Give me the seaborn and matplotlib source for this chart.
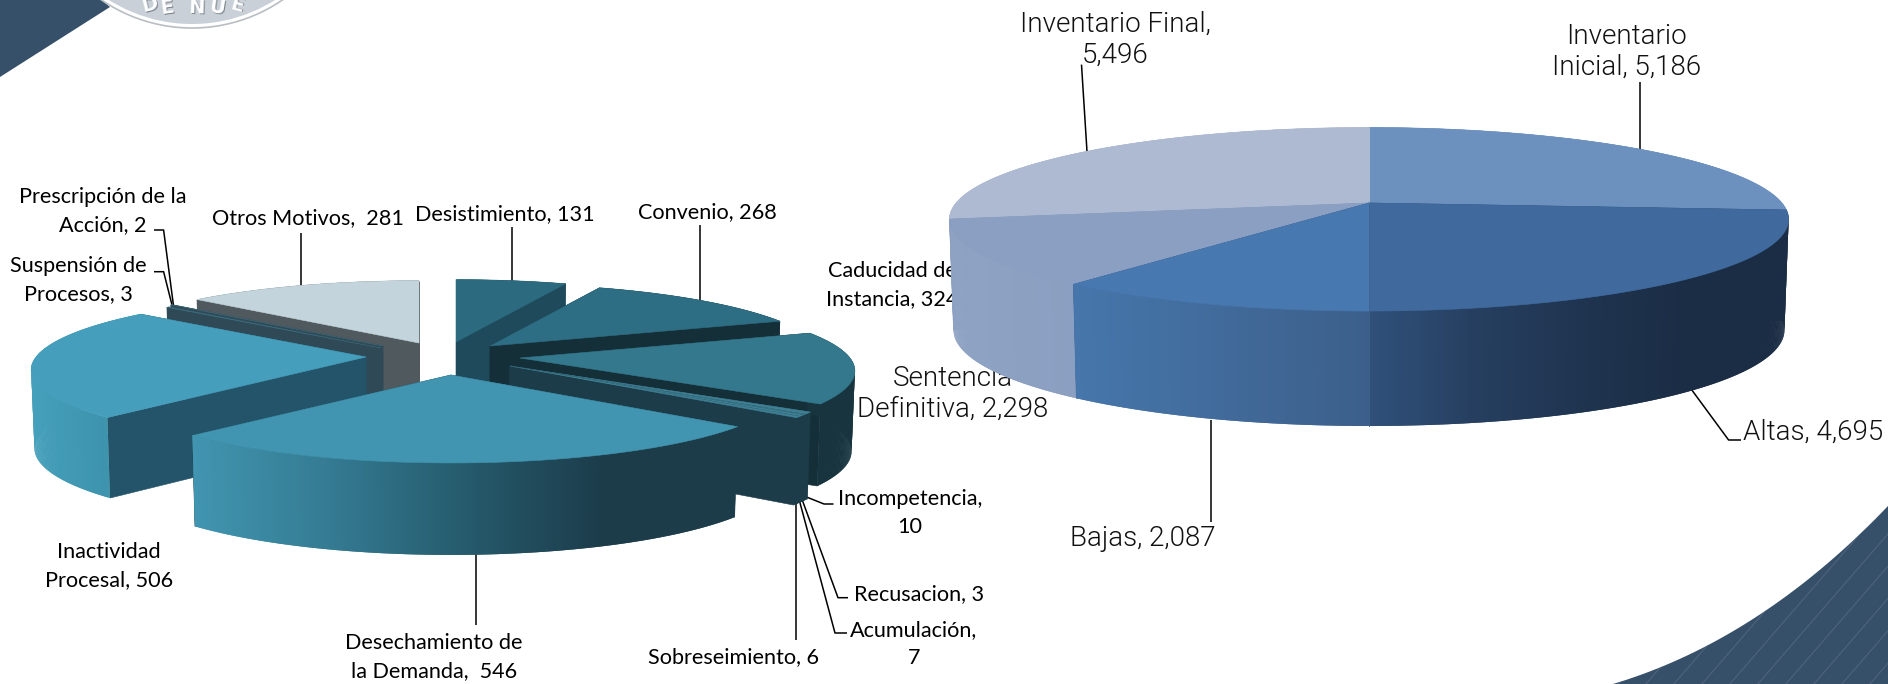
import numpy as np
import matplotlib
matplotlib.use("Agg")
import matplotlib.pyplot as plt
from matplotlib.patches import Circle, Polygon
import seaborn as sns

# left pie: motivos de baja, clockwise from 12 o'clock
motivos = ["Desistimiento", "Convenio", "Caducidad de Instancia", "Incompetencia",
           "Recusacion", "Acumulación", "Sobreseimiento", "Desechamiento de la Demanda",
           "Inactividad Procesal", "Suspensión de Procesos", "Prescripción de la Acción",
           "Otros Motivos"]
motivos_valores = [131, 268, 324, 10, 3, 7, 6, 546, 506, 3, 2, 281]

# right pie: inventario, clockwise from 12 o'clock
inventario = ["Inventario Inicial", "Altas", "Bajas", "Sentencia Definitiva", "Inventario Final"]
inventario_valores = [5186, 4695, 2087, 2298, 5496]

# styling for each slice of the left pie
left_top = ["#2b6a7f", "#2e6e84", "#33788c", "#3f8094", "#3f8094", "#3f8094", "#3f8094",
            "#4195b0", "#459ebb", "#3a6a7c", "#3a5f6e", "#c3d4dc"]
left_wall = ["#1e4a5b", "#152f38", "#152f38", "#1c3c4a", "#1c3c4a", "#1c3c4a", "#1c3c4a",
             "#1c3c4a", "#24546a", "#2f4a56", "#2f4a56", "#50595e"]
left_side = [["#1e4a5b"] * 2, ["#152f38"] * 2, ["#17343f"] * 2, ["#1c3c4a"] * 2, ["#1c3c4a"] * 2,
             ["#1c3c4a"] * 2, ["#1c3c4a"] * 2, ["#4195b0", "#347a92", "#255a6c", "#1c3c4a", "#1c3c4a"],
             ["#45a0bb", "#3f96b0", "#3c8fa8"], ["#2f4a56"] * 2, ["#2f4a56"] * 2, ["#50595e"] * 2]
# explode offsets of every slice, in pixels from the pie's centre
left_center = (450, 352)
left_explode = [(6, -10), (40, -6), (70, 6), (60, 14), (60, 14), (60, 14), (60, 14),
                (1, 23), (-84, 5), (-69, -4), (-67, -6), (-31, -9)]
left_depth = [85, 85, 80, 85, 85, 85, 85, 88, 78, 85, 85, 85]
left_radius = [1, 1, 1, 1, 1, 1, 1, 1, 1, 0.95, 0.95, 1]
left_order = [0, 11, 10, 9, 1, 2, 3, 4, 5, 6, 8, 7]

# styling for the right pie
right_top = ["#6c91bf", "#406a9e", "#4878b0", "#8a9fc1", "#aebad2"]
right_wall = ["#406a9e", "#2f4a70", "#3c5f8a", "#8a9fc1", "#aebad2"]
right_side = [["#6c91bf"] * 2, ["#30507a", "#263f60", "#1f3450", "#1b2d45", "#1b2d45"],
              ["#4676ab", "#3c5f8a"], ["#8fa3c4", "#8a9fc1"], ["#aebad2"] * 2]
right_center = (1369, 203)


def project(theta, hub, a, b, k, depth=0.0, taper=1.0):
    # theta in degrees from 12 o'clock, clockwise; perspective disc with a vertical extrusion
    t = np.radians(theta)
    u, v = np.sin(t), np.cos(t)
    w = 1 + k * v
    x = hub[0] + taper * a * u / w
    y = hub[1] - b * v / w + depth / (1 + 0.043 * v)
    return x, y


def draw_slice(ax, th0, th1, hub, a, b, k, depth, top, wall, side, z):
    thetas = np.linspace(th0, th1, max(int(th1 - th0) * 3, 2) + 1)
    xt, yt = project(thetas, hub, a, b, k)
    xb, yb = project(thetas, hub, a, b, k, depth, 0.99)
    # radial walls
    for i, col in ((0, wall), (-1, wall)):
        ax.add_patch(Polygon([hub, (xt[i], yt[i]), (xb[i], yb[i]), (hub[0], hub[1] + depth)],
                             closed=True, fc=col, ec=col, lw=0.4, zorder=z))
    # outer wall as overlapping strips so the shading can run across it without seams
    ramp = sns.blend_palette(side, 128)
    span = (xt.min(), xt.max())
    n = len(thetas)
    for i in range(n - 1):
        j = min(i + 2, n - 1)
        f = (xt[i] + xt[i + 1]) / 2
        f = 0 if span[1] == span[0] else (f - span[0]) / (span[1] - span[0])
        col = ramp[int(f * 127)]
        ax.add_patch(Polygon([(xt[i], yt[i]), (xt[j], yt[j]), (xb[j], yb[j]), (xb[i], yb[i])],
                             closed=True, fc=col, ec="none", zorder=z))
    ax.add_patch(Polygon(np.vstack([[hub], np.column_stack([xt, yt])]), closed=True,
                         fc=top, ec=top, lw=0.4, zorder=z + 0.5))


def bezier(p0, c, p1, n=40):
    t = np.linspace(0, 1, n)[:, None]
    return (1 - t) ** 2 * np.array(p0) + 2 * t * (1 - t) * np.array(c) + t ** 2 * np.array(p1)


def draw_background(ax):
    band = np.vstack([bezier((1613, 684), (1760, 640), (1888, 506)), [(1888, 684)]])
    wedge = [(0, 0), (102, 0), (110, 7), (0, 77)]
    for pts in (band, wedge):
        patch = Polygon(pts, closed=True, fc="#37506a", ec="none", zorder=0.1)
        ax.add_patch(patch)
        for off in range(-300, 2400, 28):
            line, = ax.plot([off, off + 260], [700, 400], color="#66788a", lw=0.7, alpha=0.55, zorder=0.2)
            line.set_clip_path(patch)
    # seal at the top, only its lower rim is on the page
    ax.add_patch(Circle((192, -132), 160, fc="white", ec="#b9bec4", lw=1.2, zorder=0.3))
    ax.add_patch(Circle((192, -132), 156, fc="#c9d0d8", ec="none", zorder=0.31))
    for ch, x, y, rot in [("D", 150, 5, 14), ("E", 167, 8, 8), ("N", 197, 8, -2), ("U", 217, 8, -9), ("E", 237, 5, -15)]:
        ax.text(x + 0.8, y + 0.8, ch, color="#7d858d", fontsize=14, fontweight="bold", family="DejaVu Sans",
                ha="center", va="center", rotation=rot, zorder=0.4)
        ax.text(x, y, ch, color="white", fontsize=14, fontweight="bold", family="DejaVu Sans",
                ha="center", va="center", rotation=rot, zorder=0.41)


def leader(ax, pts):
    xs, ys = zip(*pts)
    ax.plot(xs, ys, color="black", lw=1.1, zorder=1.2, solid_capstyle="butt")


def main():
    sns.set_theme(style="white")
    fig = plt.figure(figsize=(18.88, 6.84), dpi=100)
    ax = fig.add_axes([0, 0, 1, 1])
    ax.set_xlim(0, 1888)
    ax.set_ylim(684, 0)
    ax.axis("off")

    draw_background(ax)

    # left pie labels and leaders, then the slices
    small = dict(family="Lato", fontsize=15.6, color="black", ha="center", va="center", linespacing=1.5, zorder=1.1)
    labels = [
        (103, 211, "Prescripción de la\nAcción, {}", 10),
        (78, 280, "Suspensión de\nProcesos, {}", 9),
        (308, 218, "Otros Motivos,  {}", 11),
        (505, 214, "Desistimiento, {}", 0),
        (707, 212, "Convenio, {}", 1),
        (892, 285, "Caducidad de\nInstancia, {}", 2),
        (910, 513, "Incompetencia,\n{}", 3),
        (919, 594, "Recusacion, {}", 4),
        (914, 644, "Acumulación,\n{}", 5),
        (734, 657, "Sobreseimiento, {}", 6),
        (434, 657, "Desechamiento de\nla Demanda,  {}", 7),
        (109, 566, "Inactividad\nProcesal, {}", 8),
    ]
    for x, y, txt, i in labels:
        ax.text(x, y, txt.format(motivos_valores[i]), **small)

    for pts in [
        [(154, 230), (163.6, 230), (173.4, 305)],
        [(154, 271.7), (163.6, 271.7), (172, 305)],
        [(301.4, 232.7), (301.4, 288)],
        [(511.5, 226.7), (511.5, 283)],
        [(699.8, 225), (699.8, 302.7)],
        [(476, 554), (476, 625)],
        [(796, 503), (796, 640)],
        [(799.7, 501.7), (835, 633), (847, 633)],
        [(802.5, 500.7), (838, 597.7), (848, 597.7)],
        [(806.5, 497), (824, 504), (833.5, 504)],
    ]:
        leader(ax, pts)

    edges = np.concatenate([[0], np.cumsum(motivos_valores)]) / sum(motivos_valores) * 360
    for n, i in enumerate(left_order):
        hub = (left_center[0] + left_explode[i][0], left_center[1] + left_explode[i][1])
        draw_slice(ax, edges[i], edges[i + 1], hub, 330 * left_radius[i], 73 * left_radius[i], 0.17, left_depth[i],
                   left_top[i], left_wall[i], left_side[i], 2 + n)

    # right pie labels
    big = dict(family="Roboto", fontsize=20, fontweight=300, color="#111111", ha="center", va="center",
               linespacing=1.2, zorder=1.1)
    sep = lambda v: f"{v:,}"
    ax.text(953, 394, f"Sentencia\nDefinitiva, {sep(inventario_valores[3])}", **big)
    ax.text(1115.5, 40, f"Inventario Final,\n{sep(inventario_valores[4])}", **big)
    ax.text(1626.5, 52, f"Inventario\nInicial, {sep(inventario_valores[0])}", **big)
    ax.text(1813, 432, f"Altas, {sep(inventario_valores[1])}", **big)
    ax.text(1143, 539, f"Bajas, {sep(inventario_valores[2])}", **big)
    for pts in [
        [(1081.5, 64.6), (1087, 151.5)],
        [(1640.4, 82), (1640.4, 150)],
        [(1690.8, 388.6), (1728.6, 440), (1741, 440)],
        [(1210.6, 420), (1210.6, 522)],
    ]:
        leader(ax, pts)

    edges = np.concatenate([[0], np.cumsum(inventario_valores)]) / sum(inventario_valores) * 360
    for n, i in enumerate([0, 4, 1, 3, 2]):
        draw_slice(ax, edges[i], edges[i + 1], right_center, 413, 88.9, 0.177, 110,
                   right_top[i], right_wall[i], right_side[i], 20 + n)

    fig.savefig("out.png", dpi=100, facecolor="white")
    plt.close(fig)


if __name__ == "__main__":
    main()
